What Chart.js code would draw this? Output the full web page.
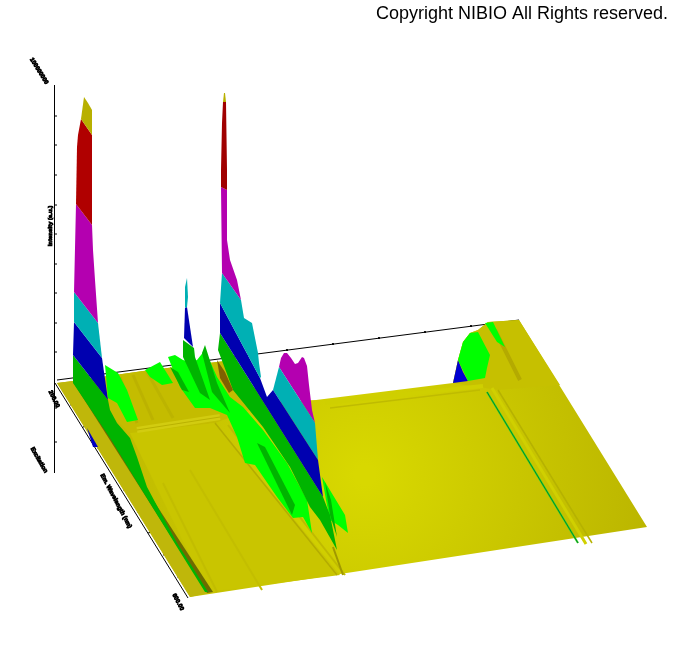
<!DOCTYPE html>
<html><head><meta charset="utf-8">
<style>html,body{margin:0;padding:0;background:#fff}#w{width:674px;height:672px;position:relative}</style>
<script src="https://cdn.jsdelivr.net/npm/chart.js@4"></script></head>
<body><div id="w"><canvas id="c"></canvas></div>
<script>
// Outlines, in the chart's own x / y units.
const floorOutline=[[57,383],[73,381],[143,371],[225,361],[270,402],[316,400],[453,383],[458,360],[463,342],[470,333],[478,330],[488,322],[519,320],[647,527],[190,597]];
const panelBackLeft=[[73,381],[143,371],[225,361],[270,402],[215,423],[130,433]];
const panelFrontLeft=[[130,433],[215,423],[340,575],[208,592]];
const panelBackRight=[[453,383],[458,360],[463,342],[470,333],[478,330],[488,322],[519,320],[560,385],[498,390]];
const leftStrip=[[57,383],[73,381],[208,593],[190,597]];
const darkStrip=[[73,382],[77,383],[213,592],[207,593]];
const wall1Green=[[73,355],[108,400],[110,410],[117,423],[130,438],[137,457],[147,487],[163,517],[177,543],[193,568],[208,592],[205,592],[177,547],[140,487],[110,438],[73,383]];
const wall1Blue=[[74,322],[102,358],[108,400],[73,355]];
const wall1Cyan=[[74,292],[98,323],[102,358],[74,322]];
const wall1Magenta=[[76,204],[92,225],[93,250],[95,280],[98,323],[74,292]];
const wall1Red=[[81,119],[78,135],[77,147],[76,204],[92,225],[92,135]];
const wall1Olive=[[84,97],[81,119],[92,135],[92,110],[88,103]];
const sideBlue=[[87,428],[98,447],[93,447]];
const patchA=[[105,365],[118,373],[127,390],[138,420],[127,422],[117,403],[108,398]];
const patchB=[[145,370],[160,362],[173,383],[162,385],[150,377]];
const clusterBright=[[168,357],[175,355],[183,360],[190,362],[197,360],[205,350],[217,377],[230,397],[243,407],[263,430],[287,463],[307,500],[312,533],[303,517],[293,518],[277,497],[255,465],[245,463],[237,437],[227,415],[210,408],[195,408],[180,387]];
const peak2Green=[[183,340],[194,348],[195,357],[210,400],[200,393],[183,357]];
const peak2Blue=[[185,308],[187,307],[193,347],[184,338]];
const peak2Cyan=[[187,278],[188,297],[187,307],[185,308],[185,287]];
const streakGreen=[[202,353],[205,345],[217,383],[230,413],[212,392]];
const streakGreen2=[[257,443],[265,447],[295,505],[292,515]];
const streakGreen3=[[170,367],[178,372],[189,392],[182,390]];
const fanBright=[[322,477],[345,515],[348,533],[338,525],[330,520],[326,500]];
const fanGreen=[[325,482],[331,500],[337,537],[330,515]];
const wall2Green=[[220,333],[323,497],[330,515],[337,550],[320,520],[310,507],[290,467],[263,427],[233,390],[218,350]];
const wall2Blue=[[220,303],[260,378],[267,397],[273,390],[318,460],[323,497],[220,333]];
const wall2Cyan=[[222,273],[241,300],[244,318],[252,323],[258,353],[259,363],[261,377],[260,378],[220,303]];
const wall2Magenta=[[221,187],[227,190],[227,240],[230,260],[237,280],[241,300],[222,273]];
const wall2Red=[[223,102],[226,102],[227,170],[227,190],[221,187],[221,170],[222,123]];
const wall2Olive=[[224,93],[225,93],[226,102],[223,102]];
const brownStreak=[[217,360],[225,372],[233,390],[229,393],[220,378]];
const hump2Cyan=[[279,367],[315,423],[318,460],[273,390]];
const hump2Magenta=[[279,367],[281,358],[284,353],[287,353],[291,358],[295,364],[298,363],[302,357],[304,358],[307,366],[309,385],[312,410],[315,423]];
const farBlue=[[458,360],[463,372],[468,381],[453,383]];
const farBright=[[458,360],[463,342],[470,333],[478,332],[490,355],[487,368],[485,378],[468,381]];
const farGreen2=[[485,323],[493,322],[505,347],[497,342]];
const backAxis=[[57,380],[519,320]];
const leftAxis=[[55,383],[188,598]];
const zAxis=[[54.5,85],[54.5,473]];
const backTicks=[[287,349],[287,351],null,[333,343],[333,345],null,[379,337],[379,339],null,[425,331],[425,333],null,[471,325],[471,327]];
const leftTicks=[[70,405],[74,404],null,[83,427],[87,426],null,[97,448],[101,447],null,[110,468],[114,467],null,[123,490],[127,489],null,[137,512],[141,511],null,[148,533],[152,532],null,[163,555],[167,554],null,[177,577],[181,576]];
const zTicks=[[54.5,116],[57,116],null,[54.5,145],[57,145],null,[54.5,175],[57,175],null,[54.5,205],[57,205],null,[54.5,234],[57,234],null,[54.5,264],[57,264],null,[54.5,293],[57,293],null,[54.5,323],[57,323],null,[54.5,352],[57,352],null,[54.5,408],[57,408],null,[54.5,442],[57,442]];
const ridgeBack=[[330,408],[480,390]];
const ridgeBackLight=[[325,403],[483,386]];
const ridgeRight=[[498,390],[592,543]];
const ridgeRightLight=[[492,388],[586,544]];
const ridgeGreen=[[487,392],[578,543]];
const ridgeAcross=[[137,430],[220,417]];
const ridgeMid=[[215,423],[337,575]];
const ridgeMid2=[[228,425],[345,575]];
const streakBack1=[[120,377],[137,423]];
const streakBack2=[[133,375],[153,420]];
const streakBack3=[[147,372],[173,418]];
const streakFront1=[[163,483],[217,592]];
const streakFront2=[[190,470],[262,590]];
const streakFan=[[333,547],[343,575]];
const streakFar=[[495,330],[520,380]];
const axisLabels=["100000000","Intensity (a.u.)","200.00","Excitation","Em. Wavelength (nm)","600.00"];

const fillShapes=[
 [floorOutline,'floor'],[panelBackLeft,'#c4bc00'],[panelFrontLeft,'#c9c500'],[panelBackRight,'#c6c000']
];
const floorLines=[
 [streakBack1,'#bab000',3],[streakBack2,'#bcb200',3],[streakBack3,'#bcb400',3],[streakFront1,'#c2bd00',2],[streakFront2,'#c3be00',2],
 [ridgeAcross,'#d2cc10',6],[ridgeAcross,'#bab200',1],[ridgeMid2,'#c0ba00',2],[ridgeMid,'#b4ac00',1.5],
 [ridgeBackLight,'#cfcf00',4],[ridgeBack,'#bfbb00',1.5],[ridgeRightLight,'#d0d000',3],[ridgeRight,'#b6b200',1.5],
 [ridgeGreen,'#40d820',2],[ridgeGreen,'#008a30',1],[streakFar,'#b4aa00',4],[streakFan,'#a09800',2]
];
const topShapes=[
 [leftStrip,'#bfb70a'],[darkStrip,'#6e6a00'],
 [sideBlue,'#0000c0'],[wall1Green,'#00b400'],[wall1Blue,'#0000b0'],[wall1Cyan,'#00b0b4'],[wall1Magenta,'#b400b0'],[wall1Red,'#b00000'],[wall1Olive,'#b8b000'],
 [patchA,'#00ff00'],[patchB,'#00ff00'],[clusterBright,'#00ff00'],[peak2Green,'#00b400'],[peak2Blue,'#0000b0'],[peak2Cyan,'#00b0b4'],[streakGreen,'#00b400'],[streakGreen2,'#00b400'],[streakGreen3,'#00b400'],[fanBright,'#00ff00'],[fanGreen,'#00b400'],
 [hump2Magenta,'#b400b0'],[hump2Cyan,'#00b0b4'],[wall2Green,'#00b400'],[wall2Blue,'#0000b0'],[wall2Cyan,'#00b0b4'],[wall2Magenta,'#b400b0'],[wall2Red,'#a00000'],[wall2Olive,'#b8b000'],[brownStreak,'#806000'],
 [farBlue,'#0000d0'],[farBright,'#00ff00'],[farGreen2,'#00ff00']
];
const pts=a=>a.map(p=>p?{x:p[0],y:p[1]}:{x:NaN,y:NaN});
function floorFill(ctx){
  const ch=ctx.chart,xs=ch.scales.x,ys=ch.scales.y;
  const cx=xs&&xs.getPixelForValue(365),cy=ys&&ys.getPixelForValue(475);
  if(!Number.isFinite(cx)||!Number.isFinite(cy))return '#d0cc00';
  const grad=ch.ctx.createRadialGradient(cx,cy,10,cx,cy,300);
  grad.addColorStop(0,'#d8d800');grad.addColorStop(1,'#bab400');
  return grad;
}
const shapeDs=([o,c])=>({data:pts(o),showLine:true,fill:'shape',backgroundColor:c==='floor'?floorFill:c,borderWidth:0,borderColor:'transparent',pointRadius:0,clip:false,tension:0});
const lineDs=([o,c,w])=>({data:pts(o),showLine:true,fill:false,borderColor:c,borderWidth:w,pointRadius:0,clip:false,tension:0,spanGaps:false});
const axisLines=[backAxis,leftAxis,zAxis,backTicks,leftTicks,zTicks].map(a=>[a,'#000',1]);
// Chart.js paints the first dataset last, so the back-to-front list is reversed.
const ordered=[...axisLines.map(lineDs),...fillShapes.map(shapeDs),...floorLines.map(lineDs),...topShapes.map(shapeDs)].reverse();

const labelPlugin={id:'lab',afterDraw(ch){
  const g=ch.ctx,xs=ch.scales.x,ys=ch.scales.y;
  const spots=[[39,71,58],[50,226,-90],[54,399,65],[39,460,60],[116,501,62],[178,602,62]];
  g.save();g.fillStyle='#000';g.strokeStyle='#000';g.lineWidth=0.8;g.font='bold 6px "Liberation Sans"';g.textAlign='center';g.textBaseline='middle';
  spots.forEach((s,i)=>{g.save();g.translate(xs.getPixelForValue(s[0]),ys.getPixelForValue(s[1]));g.rotate(s[2]*Math.PI/180);g.fillText(axisLabels[i],0,0);g.strokeText(axisLabels[i],0,0);g.restore();});
  g.restore();
}};
new Chart(document.getElementById('c'),{type:'scatter',data:{datasets:ordered},plugins:[labelPlugin],options:{
  responsive:true,maintainAspectRatio:false,animation:false,events:[],
  layout:{padding:{left:0,right:6,top:0,bottom:0}},
  plugins:{legend:{display:false},tooltip:{enabled:false},
   title:{display:true,text:'Copyright NIBIO All Rights reserved.',align:'end',color:'#000',font:{family:'"Liberation Sans"',size:18,weight:'normal',lineHeight:'22px'},padding:{top:3,bottom:3}}},
  scales:{x:{type:'linear',min:0,max:668,display:false},y:{type:'linear',min:28,max:672,reverse:true,display:false}}
}});
</script></body></html>
